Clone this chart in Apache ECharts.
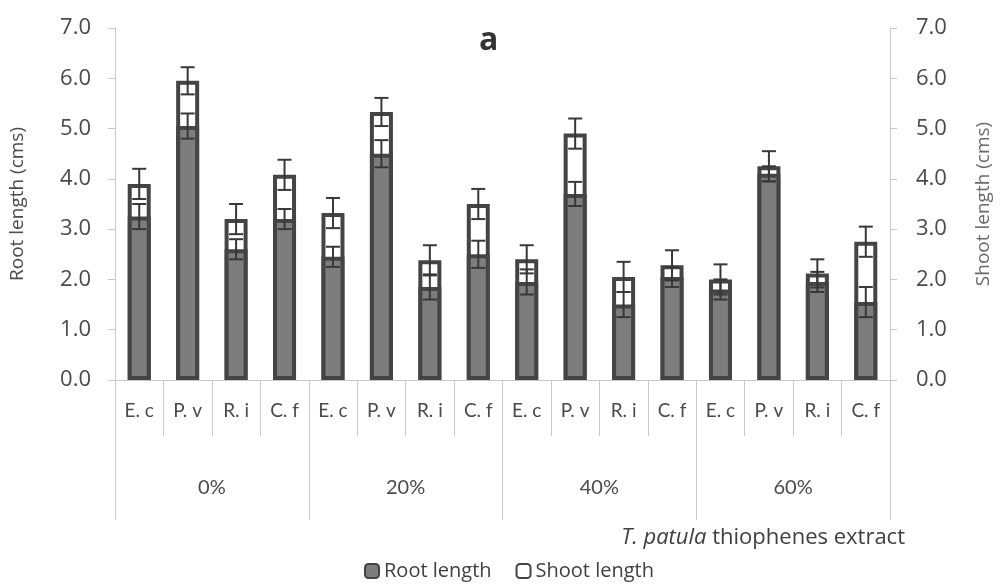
<!DOCTYPE html>
<html>
<head>
<meta charset="utf-8">
<script src="https://cdn.jsdelivr.net/npm/echarts@6/dist/echarts.min.js"></script>
<style>
  html, body { margin: 0; padding: 0; background: #ffffff; }
  #chart { width: 1001px; height: 588px; }
</style>
</head>
<body>
<div id="chart"></div>
<script>
// Species tested at each extract concentration
const species = ['E. c', 'P. v', 'R. i', 'C. f'];
const concentrations = ['0%', '20%', '40%', '60%'];
const categories = concentrations.flatMap(() => species);

// Root length (cms) with standard errors
const rootLength = [3.25, 5.05, 2.6, 3.2, 2.45, 4.5, 1.85, 2.5, 1.95, 3.7, 1.5, 2.05, 1.8, 4.1, 1.95, 1.55];
const rootErr    = [0.25, 0.25, 0.2, 0.2, 0.2, 0.27, 0.25, 0.27, 0.25, 0.24, 0.25, 0.2, 0.2, 0.15, 0.2, 0.3];

// Shoot length (cms) with standard errors
const shootLength = [3.9, 5.95, 3.2, 4.08, 3.32, 5.33, 2.38, 3.5, 2.4, 4.9, 2.05, 2.28, 2.0, 4.25, 2.12, 2.75];
const shootErr    = [0.3, 0.27, 0.3, 0.3, 0.3, 0.28, 0.3, 0.3, 0.28, 0.3, 0.3, 0.3, 0.3, 0.3, 0.28, 0.3];

const yTicks = { min: 0, max: 7, interval: 1 };

const FONT = 'Lato';
const WIDE = 'Open Sans';
const TXT = '#4a4a4a';
const AXIS = '#c8c8c8';
const EDGE = '#444444';

function errorSeries(name, values, errs, yAxisIndex) {
  return {
    name: name,
    type: 'custom',
    xAxisIndex: 0,
    yAxisIndex: yAxisIndex,
    z: 5,
    silent: true,
    data: values.map((v, i) => [i, v, errs[i]]),
    renderItem: function (params, api) {
      const x = api.value(0), v = api.value(1), e = api.value(2);
      const top = api.coord([x, v + e]);
      const bot = api.coord([x, v - e]);
      const half = 7;
      const st = { stroke: '#383838', lineWidth: 2 };
      return {
        type: 'group',
        children: [
          { type: 'line', shape: { x1: top[0], y1: top[1], x2: bot[0], y2: bot[1] }, style: st },
          { type: 'line', shape: { x1: top[0] - half, y1: top[1], x2: top[0] + half, y2: top[1] }, style: st },
          { type: 'line', shape: { x1: bot[0] - half, y1: bot[1], x2: bot[0] + half, y2: bot[1] }, style: st }
        ]
      };
    }
  };
}

const valueAxis = (pos, name, gap, nameColor, labelMargin) => ({
  type: 'value',
  position: pos,
  min: yTicks.min, max: yTicks.max, interval: yTicks.interval,
  name: name,
  nameLocation: 'middle',
  nameRotate: 90,
  nameGap: gap,
  nameTextStyle: { fontFamily: WIDE, fontSize: 19, color: nameColor },
  axisLine: { show: true, lineStyle: { color: AXIS, width: 1 } },
  axisTick: { show: true, length: 7, lineStyle: { color: AXIS } },
  splitLine: { show: false },
  axisLabel: {
    fontFamily: WIDE, fontSize: 22, color: TXT, margin: labelMargin,
    formatter: v => v.toFixed(1)
  }
});

const chart = echarts.init(document.getElementById('chart'), null, { renderer: 'canvas' });
chart.setOption({
  backgroundColor: '#ffffff',
  animation: false,
  title: {
    text: 'a',
    left: 474, top: 20,
    textStyle: { fontFamily: WIDE, fontSize: 32, fontWeight: 'bold', color: '#333333' }
  },
  grid: { left: 115, right: 111, top: 28, bottom: 208 },
  legend: {
    data: ['Root length', 'Shoot length'],
    left: 364, top: 561,
    itemWidth: 14, itemHeight: 14, itemGap: 24, padding: 0,
    textStyle: { fontFamily: WIDE, fontSize: 20, color: '#404040' }
  },
  xAxis: [
    {
      type: 'category',
      data: categories,
      position: 'bottom',
      axisLine: { show: true, lineStyle: { color: AXIS } },
      axisTick: { show: true, interval: 0, length: 56, lineStyle: { color: AXIS } },
      axisLabel: { interval: 0, margin: 21, fontFamily: FONT, fontSize: 19, color: TXT }
    },
    {
      type: 'category',
      data: concentrations,
      position: 'bottom',
      axisLine: { show: false },
      axisTick: { show: true, interval: 0, length: 140, lineStyle: { color: AXIS } },
      axisLabel: { interval: 0, margin: 98, fontFamily: FONT, fontSize: 20, color: TXT }
    }
  ],
  yAxis: [
    valueAxis('left', 'Root length (cms)', 88, '#4a4a4a', 24),
    valueAxis('right', 'Shoot length (cms)', 84, '#6a6a6a', 26)
  ],
  graphic: [
    {
      type: 'text',
      right: 96, top: 527,
      style: {
        text: '{i|T. patula} thiophenes extract',
        rich: {
          i: { fontFamily: WIDE, fontSize: 22, fontStyle: 'italic', fill: '#404040' }
        },
        fontFamily: WIDE, fontSize: 22, fill: '#404040'
      }
    }
  ],
  series: [
    {
      name: 'Shoot length',
      type: 'bar',
      xAxisIndex: 0, yAxisIndex: 1,
      data: shootLength,
      barWidth: 23,
      barGap: '-100%',
      z: 2,
      itemStyle: { color: '#ffffff', borderColor: EDGE, borderWidth: 4 }
    },
    {
      name: 'Root length',
      type: 'bar',
      xAxisIndex: 0, yAxisIndex: 0,
      data: rootLength,
      barWidth: 23,
      barGap: '-100%',
      z: 3,
      itemStyle: { color: '#7d7d7d', borderColor: EDGE, borderWidth: 4 }
    },
    errorSeries('Shoot error', shootLength, shootErr, 1),
    errorSeries('Root error', rootLength, rootErr, 0)
  ]
});
</script>
</body>
</html>
